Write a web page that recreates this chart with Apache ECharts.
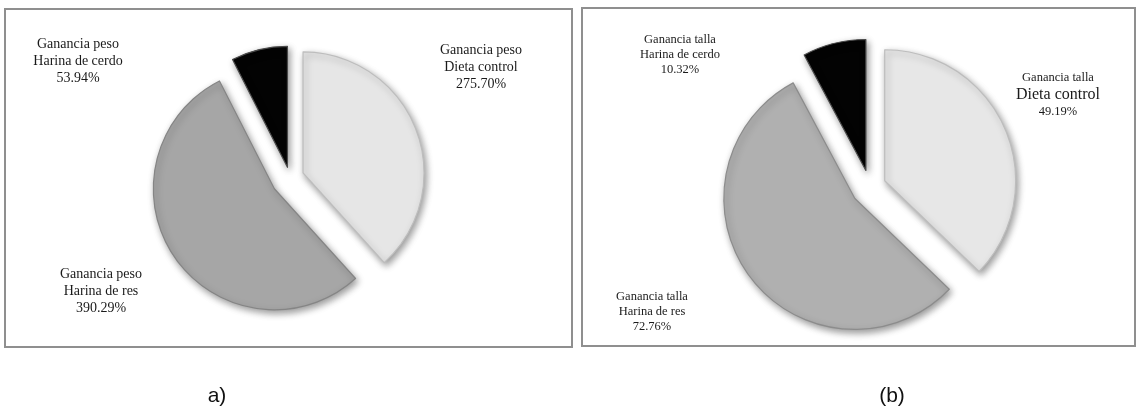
<!DOCTYPE html>
<html>
<head>
<meta charset="utf-8">
<title>Ganancia de peso y talla</title>
<script src="https://cdn.jsdelivr.net/npm/echarts@6/dist/echarts.min.js"></script>
<style>
  html, body { margin: 0; padding: 0; background: #ffffff; }
  #chart { width: 1138px; height: 413px; }
</style>
</head>
<body>
<div id="chart"></div>
<script>
// Diet groups, in the order the slices run clockwise from 12 o'clock
const dietNames = ['Dieta control', 'Harina de res', 'Harina de cerdo'];
// Weight gain (%) per diet
const pesoValues = [275.70, 390.29, 53.94];
// Height gain (%) per diet
const tallaValues = [49.19, 72.76, 10.32];
// Label headings and panel captions
const pesoHeading = 'Ganancia peso';
const tallaHeading = 'Ganancia talla';
const panelCaptions = ['a)', '(b)'];

// Panel layout: frame, pie placement, per-slice explosion, fills and label anchors
const panels = [
  {
    values: pesoValues, heading: pesoHeading,
    frame: [5, 9, 567, 338],
    center: [290, 178], radius: 121,
    offsets: [14, 19, 11],
    fills: ['#e6e6e6', '#a6a6a6', '#030303'],
    rims: ['#bdbdbd', '#858585', '#4a4a4a'],
    labelAt: [[481, 67], [101, 291], [78, 61]],
    font: { size: 14, line: 17, controlSize: 14, controlLine: 17 }
  },
  {
    values: tallaValues, heading: tallaHeading,
    frame: [582, 8, 553, 338],
    center: [870, 187], radius: 131,
    offsets: [16, 19, 17],
    fills: ['#e7e7e7', '#b0b0b0', '#030303'],
    rims: ['#bdbdbd', '#8c8c8c', '#4a4a4a'],
    labelAt: [[1058, 95], [652, 312], [680, 55]],
    font: { size: 12.5, line: 15, controlSize: 16, controlLine: 19 }
  }
];

// One pie series per visible slice so each slice can have its own explosion distance
function buildSeries(panel) {
  return dietNames.map((name, visible) => ({
    type: 'pie',
    name: panel.heading + ' ' + name,
    center: panel.center,
    radius: [0, panel.radius],
    startAngle: 90,
    clockwise: true,
    selectedMode: 'multiple',
    selectedOffset: panel.offsets[visible],
    silent: true,
    animation: false,
    emphasis: { disabled: true },
    label: { show: false },
    labelLine: { show: false },
    data: panel.values.map((v, i) => {
      if (i !== visible) {
        return {
          name: dietNames[i], value: v,
          itemStyle: { color: 'transparent', borderWidth: 0, shadowBlur: 0, shadowColor: 'transparent' }
        };
      }
      return {
        name: dietNames[i], value: v, selected: true,
        itemStyle: {
          color: panel.fills[i],
          borderColor: panel.rims[i],
          borderWidth: 1.2,
          shadowBlur: 7, shadowOffsetX: 2, shadowOffsetY: 3,
          shadowColor: 'rgba(0,0,0,0.4)'
        }
      };
    })
  }));
}

// Three-line slice labels: heading, diet name, value
function buildLabels(panel, pIndex) {
  const f = panel.font;
  return dietNames.map((name, i) => {
    const nameStyle = (pIndex === 1 && i === 0) ? 'c' : 't';
    return {
      type: 'text', silent: true, z: 10,
      x: panel.labelAt[i][0], y: panel.labelAt[i][1],
      style: {
        text: '{t|' + panel.heading + '}\n{' + nameStyle + '|' + name + '}\n{t|' + panel.values[i].toFixed(2) + '%}',
        textAlign: 'center', textVerticalAlign: 'middle',
        fill: '#1a1a1a',
        rich: {
          t: { fontSize: f.size, lineHeight: f.line, fontFamily: 'Liberation Serif', fill: '#1a1a1a', align: 'center' },
          c: { fontSize: f.controlSize, lineHeight: f.controlLine, fontFamily: 'Liberation Serif', fill: '#1a1a1a', align: 'center' }
        }
      }
    };
  });
}

const chart = echarts.init(document.getElementById('chart'), null, { renderer: 'canvas' });

const graphics = [];
panels.forEach((panel, pIndex) => {
  const fr = panel.frame;
  graphics.push({
    type: 'rect', silent: true, z: -1,
    shape: { x: fr[0], y: fr[1], width: fr[2], height: fr[3] },
    style: { fill: '#ffffff', stroke: '#8f8f8f', lineWidth: 2 }
  });
  buildLabels(panel, pIndex).forEach((g) => graphics.push(g));
});
graphics.push({
  type: 'text', x: 217, y: 396, silent: true,
  style: { text: panelCaptions[0], font: '21px "Liberation Sans", Arial, sans-serif', fill: '#111111', textAlign: 'center', textVerticalAlign: 'middle' }
});
graphics.push({
  type: 'text', x: 892, y: 396, silent: true,
  style: { text: panelCaptions[1], font: '21px "Liberation Sans", Arial, sans-serif', fill: '#111111', textAlign: 'center', textVerticalAlign: 'middle' }
});

chart.setOption({
  backgroundColor: '#ffffff',
  animation: false,
  graphic: graphics,
  series: [].concat(buildSeries(panels[0]), buildSeries(panels[1]))
});
</script>
</body>
</html>
